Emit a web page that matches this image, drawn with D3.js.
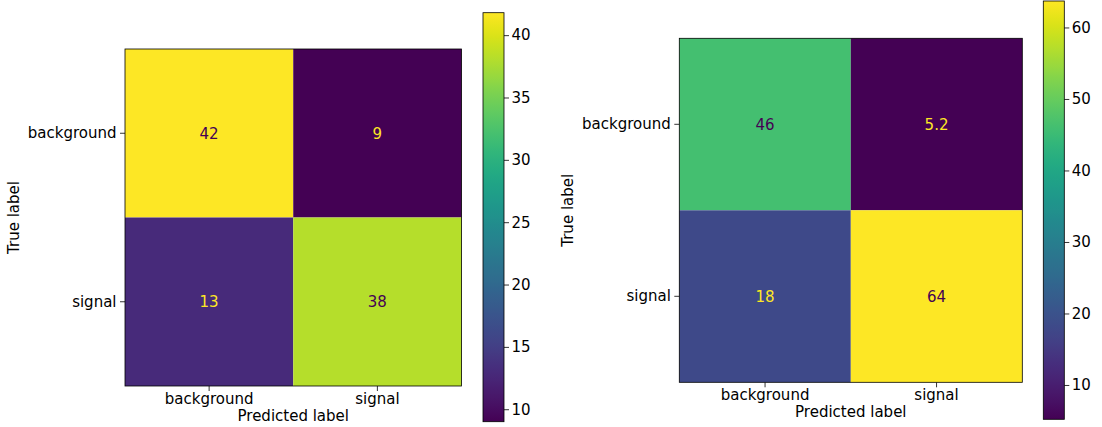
<!DOCTYPE html>
<html>
<head>
<meta charset="utf-8">
<script src="https://cdn.jsdelivr.net/npm/d3@7"></script>
<style>
    body { margin: 0; background: #fff; }
    svg { display: block; }
    text { font-family: "DejaVu Sans", sans-serif; fill: #000; }
    .axis text { font-size: 15px; }
    .axis line { stroke: #000; stroke-width: 0.8; }
    .axis path { display: none; }
    .axis-title { font-size: 15px; }
    .cell-text { font-size: 15px; }
</style>
</head>
<body>
<svg id="chart"></svg>
<script>
// class names on both axes
const classLabels = ["background", "signal"];

// left matrix (rows = true label, cols = predicted label)
const leftValues = [
    [41.8, 9.0],
    [12.9, 38.2]
];

// right matrix
const rightValues = [
    [46.2, 5.2],
    [18.1, 63.7]
];

const leftTicks = [10, 15, 20, 25, 30, 35, 40];
const rightTicks = [10, 20, 30, 40, 50, 60];

class ConfusionMatrix {
    constructor(_config, _data) {
        this.config = {
            parentElement: _config.parentElement,
            left: _config.left,
            top: _config.top,
            width: _config.width,
            height: _config.height,
            barLeft: _config.barLeft,
            barTop: _config.barTop,
            barBottom: _config.barBottom,
            barWidth: _config.barWidth || 21,
            ticks: _config.ticks,
            id: _config.id
        }
        this.data = _data;
        this.initVis();
    }

    initVis() {
        let vis = this;
        const c = vis.config;

        vis.flat = [];
        vis.data.forEach((row, i) => row.forEach((v, j) => vis.flat.push({row: i, col: j, value: v})));

        vis.vmin = d3.min(vis.flat, d => d.value);
        vis.vmax = d3.max(vis.flat, d => d.value);

        vis.xScale = d3.scaleBand()
            .domain(classLabels)
            .range([0, c.width]);

        vis.yScale = d3.scaleBand()
            .domain(classLabels)
            .range([0, c.height]);

        vis.colorScale = d3.scaleSequential(d3.interpolateViridis)
            .domain([vis.vmin, vis.vmax]);

        vis.barScale = d3.scaleLinear()
            .domain([vis.vmin, vis.vmax])
            .range([c.barBottom - c.barTop, 0]);

        vis.xAxis = d3.axisBottom(vis.xScale)
            .tickSize(5)
            .tickPadding(2);

        vis.yAxis = d3.axisLeft(vis.yScale)
            .tickSize(5)
            .tickPadding(3.5);

        vis.barAxis = d3.axisRight(vis.barScale)
            .tickValues(c.ticks)
            .tickSize(5)
            .tickPadding(2.5)
            .tickFormat(d3.format("d"));

        vis.svg = d3.select(c.parentElement);

        vis.chart = vis.svg.append('g')
            .attr('transform', `translate(${c.left},${c.top})`);

        vis.xAxisG = vis.chart.append('g')
            .attr('class', 'axis x-axis')
            .attr('transform', `translate(0,${c.height})`);

        vis.yAxisG = vis.chart.append('g')
            .attr('class', 'axis y-axis');

        // axis titles
        vis.chart.append('text')
            .attr('class', 'axis-title')
            .attr('x', c.width / 2)
            .attr('y', c.height + 35)
            .attr('text-anchor', 'middle')
            .text('Predicted label');

        vis.chart.append('text')
            .attr('class', 'axis-title')
            .attr('transform', `translate(-106,${c.height / 2}) rotate(-90)`)
            .attr('text-anchor', 'middle')
            .text('True label');

        // colorbar
        vis.bar = vis.svg.append('g')
            .attr('transform', `translate(${c.barLeft},${c.barTop})`);

        const grad = vis.svg.append('defs').append('linearGradient')
            .attr('id', 'grad-' + c.id)
            .attr('x1', 0).attr('y1', 1)
            .attr('x2', 0).attr('y2', 0);

        grad.selectAll('stop')
            .data(d3.range(0, 1.0001, 0.02))
            .join('stop')
            .attr('offset', d => d)
            .attr('stop-color', d => d3.interpolateViridis(d));

        vis.bar.append('rect')
            .attr('width', c.barWidth)
            .attr('height', c.barBottom - c.barTop)
            .attr('fill', `url(#grad-${c.id})`)
            .attr('stroke', '#000')
            .attr('stroke-width', 0.8);

        vis.barAxisG = vis.bar.append('g')
            .attr('class', 'axis bar-axis')
            .attr('transform', `translate(${c.barWidth},0)`);

        vis.renderVis();
    }

    renderVis() {
        let vis = this;
        const c = vis.config;
        const thresh = (vis.vmin + vis.vmax) / 2;
        const fmt = d3.format('.2~g');

        vis.chart.selectAll('.cell')
            .data(vis.flat)
            .join('rect')
            .attr('class', 'cell')
            .attr('x', d => vis.xScale(classLabels[d.col]))
            .attr('y', d => vis.yScale(classLabels[d.row]))
            .attr('width', vis.xScale.bandwidth())
            .attr('height', vis.yScale.bandwidth())
            .attr('fill', d => vis.colorScale(d.value));

        vis.chart.selectAll('.cell-text')
            .data(vis.flat)
            .join('text')
            .attr('class', 'cell-text')
            .attr('x', d => vis.xScale(classLabels[d.col]) + vis.xScale.bandwidth() / 2)
            .attr('y', d => vis.yScale(classLabels[d.row]) + vis.yScale.bandwidth() / 2)
            .attr('dy', '0.36em')
            .attr('text-anchor', 'middle')
            .style('fill', d => d.value < thresh ? d3.interpolateViridis(1) : d3.interpolateViridis(0))
            .text(d => fmt(d.value));

        // outline of the matrix
        vis.chart.append('rect')
            .attr('width', c.width)
            .attr('height', c.height)
            .attr('fill', 'none')
            .attr('stroke', '#000')
            .attr('stroke-width', 0.8);

        vis.xAxisG.call(vis.xAxis);
        vis.yAxisG.call(vis.yAxis);
        vis.barAxisG.call(vis.barAxis);
    }
}

d3.select('#chart')
    .attr('width', 1102)
    .attr('height', 427);

new ConfusionMatrix({
    parentElement: '#chart',
    id: 'l',
    left: 125, top: 49, width: 336.5, height: 337,
    barLeft: 483, barTop: 12.7, barBottom: 421.7,
    ticks: leftTicks
}, leftValues);

new ConfusionMatrix({
    parentElement: '#chart',
    id: 'r',
    left: 679.3, top: 38.3, width: 343, height: 344,
    barLeft: 1043.3, barTop: 1, barBottom: 419.3,
    ticks: rightTicks
}, rightValues);
</script>
</body>
</html>
